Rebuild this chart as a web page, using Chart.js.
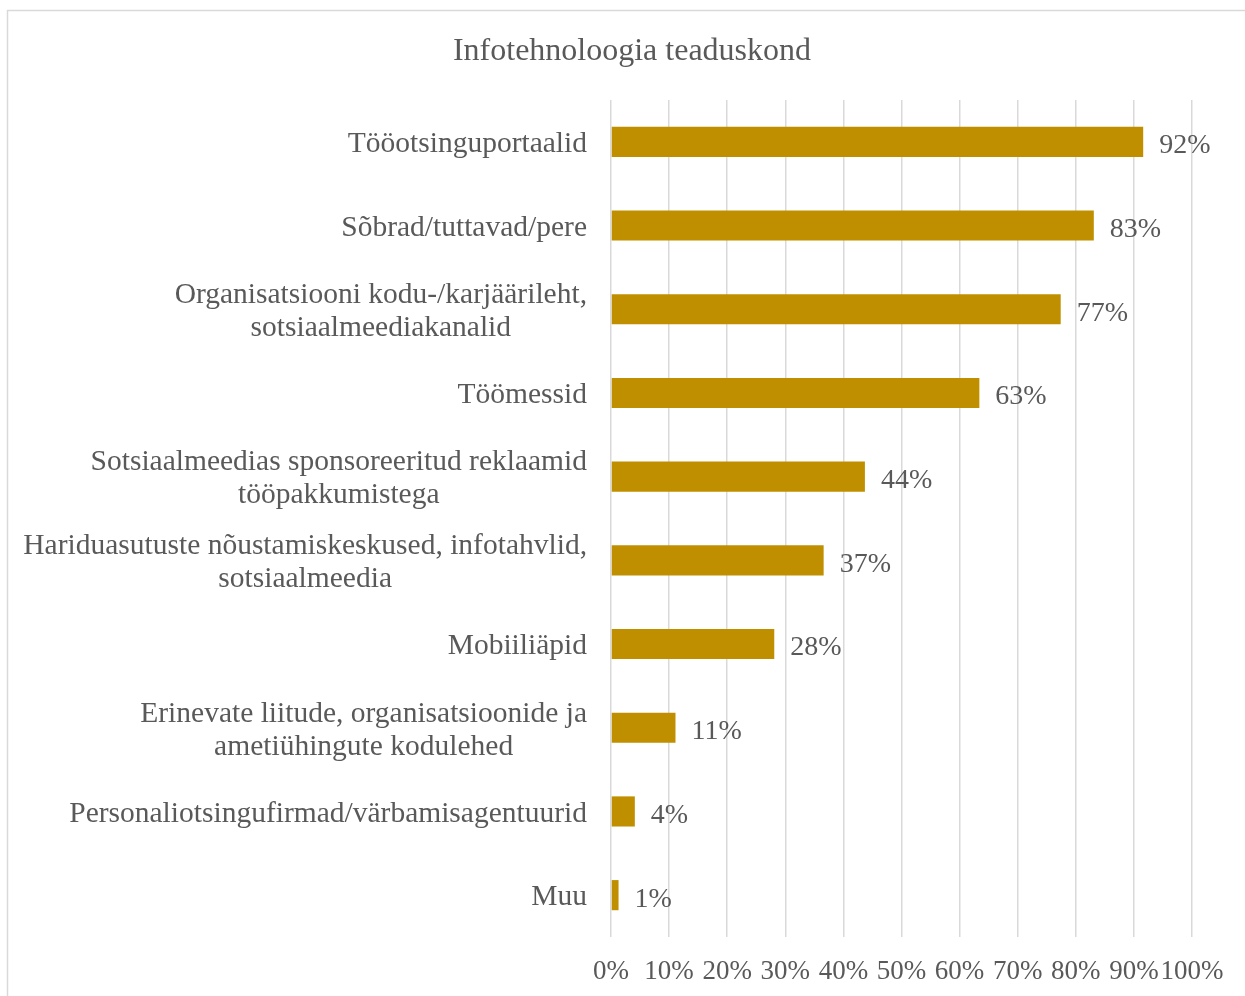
<!DOCTYPE html>
<html>
<head>
<meta charset="utf-8">
<script src="https://cdn.jsdelivr.net/npm/chart.js@4.4.1/dist/chart.umd.min.js"></script>
<style>
  html, body { margin: 0; padding: 0; background: #ffffff; }
  #wrap { position: relative; width: 1245px; height: 996px; }
</style>
</head>
<body>
<div id="wrap"><canvas id="c" width="1245" height="996"></canvas></div>
<script>
const chartTitle = "Infotehnoloogia teaduskond";
const categories = [
  ["Tööotsinguportaalid"],
  ["Sõbrad/tuttavad/pere"],
  ["Organisatsiooni kodu-/karjäärileht,", "sotsiaalmeediakanalid"],
  ["Töömessid"],
  ["Sotsiaalmeedias sponsoreeritud reklaamid", "tööpakkumistega"],
  ["Hariduasutuste nõustamiskeskused, infotahvlid,", "sotsiaalmeedia"],
  ["Mobiiliäpid"],
  ["Erinevate liitude, organisatsioonide ja", "ametiühingute kodulehed"],
  ["Personaliotsingufirmad/värbamisagentuurid"],
  ["Muu"]
];
const values = [91.6, 83.1, 77.4, 63.4, 43.7, 36.6, 28.1, 11.1, 4.1, 1.3];
const valueLabels = ["92%", "83%", "77%", "63%", "44%", "37%", "28%", "11%", "4%", "1%"];
const xTicks = [0, 10, 20, 30, 40, 50, 60, 70, 80, 90, 100];

const FONT = "'Liberation Serif', 'Times New Roman', serif";
const TEXT = "#595959";

const borderPlugin = {
  id: 'outerBorder',
  beforeDraw(chart) {
    const ctx = chart.ctx;
    ctx.save();
    ctx.fillStyle = '#ffffff';
    ctx.fillRect(0, 0, chart.width, chart.height);
    ctx.strokeStyle = '#D9D9D9';
    ctx.lineWidth = 1.5;
    ctx.beginPath();
    ctx.moveTo(7.5, chart.height);
    ctx.lineTo(7.5, 10.5);
    ctx.lineTo(chart.width, 10.5);
    ctx.stroke();
    ctx.restore();
  }
};

const catLabelPlugin = {
  id: 'catLabels',
  afterDraw(chart) {
    const ctx = chart.ctx;
    const y = chart.scales.y;
    const right = chart.chartArea.left - 24;
    const lh = 33;
    ctx.save();
    ctx.font = "29.5px " + FONT;
    ctx.fillStyle = TEXT;
    ctx.textAlign = 'center';
    ctx.textBaseline = 'middle';
    categories.forEach((lines, i) => {
      const cy = y.getPixelForTick(i) + 2.5;
      const w = Math.max(...lines.map(l => ctx.measureText(l).width));
      const cx = right - w / 2;
      lines.forEach((l, j) => {
        ctx.fillText(l, cx, cy + (j - (lines.length - 1) / 2) * lh);
      });
    });
    ctx.restore();
  }
};

const valueLabelPlugin = {
  id: 'valueLabels',
  afterDatasetsDraw(chart) {
    const ctx = chart.ctx;
    const meta = chart.getDatasetMeta(0);
    ctx.save();
    ctx.font = "28px " + FONT;
    ctx.fillStyle = TEXT;
    ctx.textAlign = 'left';
    ctx.textBaseline = 'middle';
    meta.data.forEach((bar, i) => {
      ctx.fillText(valueLabels[i], bar.x + 16, bar.y + 4);
    });
    ctx.restore();
  }
};

new Chart(document.getElementById('c'), {
  type: 'bar',
  data: {
    labels: categories,
    datasets: [{
      data: values,
      backgroundColor: '#BF8F00',
      borderWidth: 0,
      barPercentage: 0.72,
      categoryPercentage: 0.5
    }]
  },
  options: {
    indexAxis: 'y',
    responsive: false,
    animation: false,
    devicePixelRatio: 1,
    layout: { padding: { top: 10, right: 53, bottom: 0, left: 72 } },
    plugins: {
      legend: { display: false },
      tooltip: { enabled: false },
      title: {
        display: true,
        text: chartTitle,
        color: TEXT,
        font: { family: FONT, size: 32, weight: 'normal', lineHeight: 1.2 },
        padding: { top: 22.4, bottom: 29.2 }
      }
    },
    scales: {
      x: {
        min: 0,
        max: 100,
        afterBuildTicks(scale) { scale.ticks = xTicks.map(v => ({ value: v })); },
        afterFit(scale) { scale.height = 59; },
        grid: { color: '#D9D9D9', lineWidth: 1.5, drawTicks: false },
        border: { display: false },
        ticks: {
          color: TEXT,
          font: { family: FONT, size: 27 },
          padding: 19,
          maxRotation: 0,
          autoSkip: false,
          callback: v => v + '%'
        }
      },
      y: {
        afterFit(scale) { scale.width = 539; },
        grid: { display: false },
        border: { display: false },
        ticks: { display: false }
      }
    }
  },
  plugins: [borderPlugin, catLabelPlugin, valueLabelPlugin]
});
</script>
</body>
</html>
